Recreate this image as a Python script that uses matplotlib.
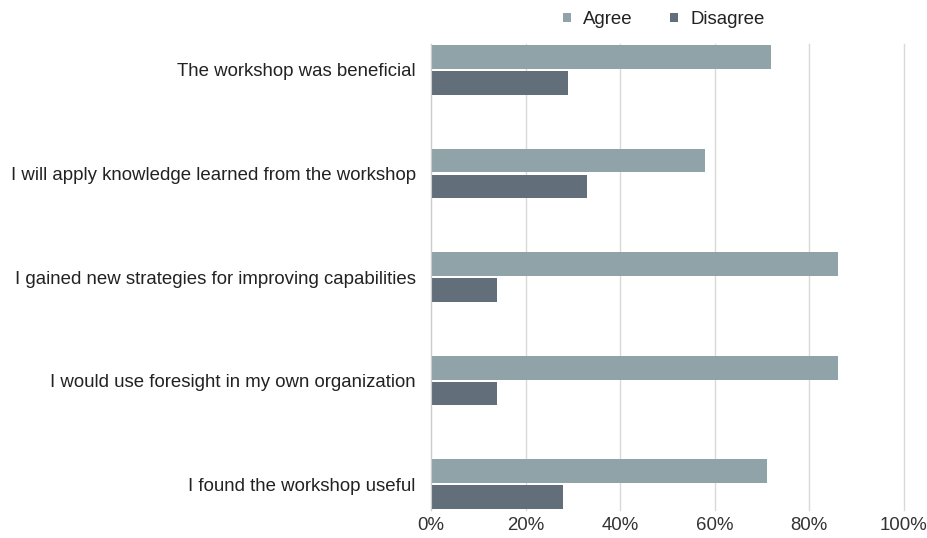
import numpy as np
import matplotlib
matplotlib.use('Agg')
import matplotlib.pyplot as plt

plt.rcParams['font.family'] = ['Liberation Sans', 'DejaVu Sans']

# survey statements and share of responses (%)
statements = ['The workshop was beneficial',
              'I will apply knowledge learned from the workshop',
              'I gained new strategies for improving capabilities',
              'I would use foresight in my own organization',
              'I found the workshop useful']
agree = [72, 58, 86, 86, 71]
disagree = [29, 33, 14, 14, 28]

agree_color = '#8fa3a8'
disagree_color = '#636e7b'

fig = plt.figure(figsize=(9.27, 5.38), dpi=100)
ax = fig.add_axes([0.465, 0.052, 0.51, 0.866])

y = np.arange(len(statements))
h = 0.23
ax.barh(y - 0.125, agree, h, color=agree_color, label='Agree')
ax.barh(y + 0.125, disagree, h, color=disagree_color, label='Disagree')

ax.set_xlim(0, 100)
ax.set_ylim(4.25, -0.25)
ax.set_yticks(y)
ax.set_yticklabels(statements, fontsize=13.4, color='#222222')
ax.set_xticks(np.arange(0, 101, 20))
ax.set_xticklabels([f'{v}%' for v in range(0, 101, 20)], fontsize=13.4, color='#333333')
ax.tick_params(length=0)
ax.tick_params(axis='x', pad=5)
ax.tick_params(axis='y', pad=11)

ax.grid(axis='x', color='#d9d9d9', linewidth=1)
for gl in ax.get_xgridlines():
    gl.set_clip_on(False)
ax.set_axisbelow(True)
for side in ['top', 'right', 'bottom']:
    ax.spines[side].set_visible(False)
ax.spines['left'].set_color('#cccccc')

fig.legend(loc='upper center', bbox_to_anchor=(0.716, 1.01), ncol=2, frameon=False,
           fontsize=13.4, handlelength=0.45, handleheight=0.4, handletextpad=0.65,
           columnspacing=2.0, labelcolor='#222222')

fig.savefig('out.png', dpi=100)
